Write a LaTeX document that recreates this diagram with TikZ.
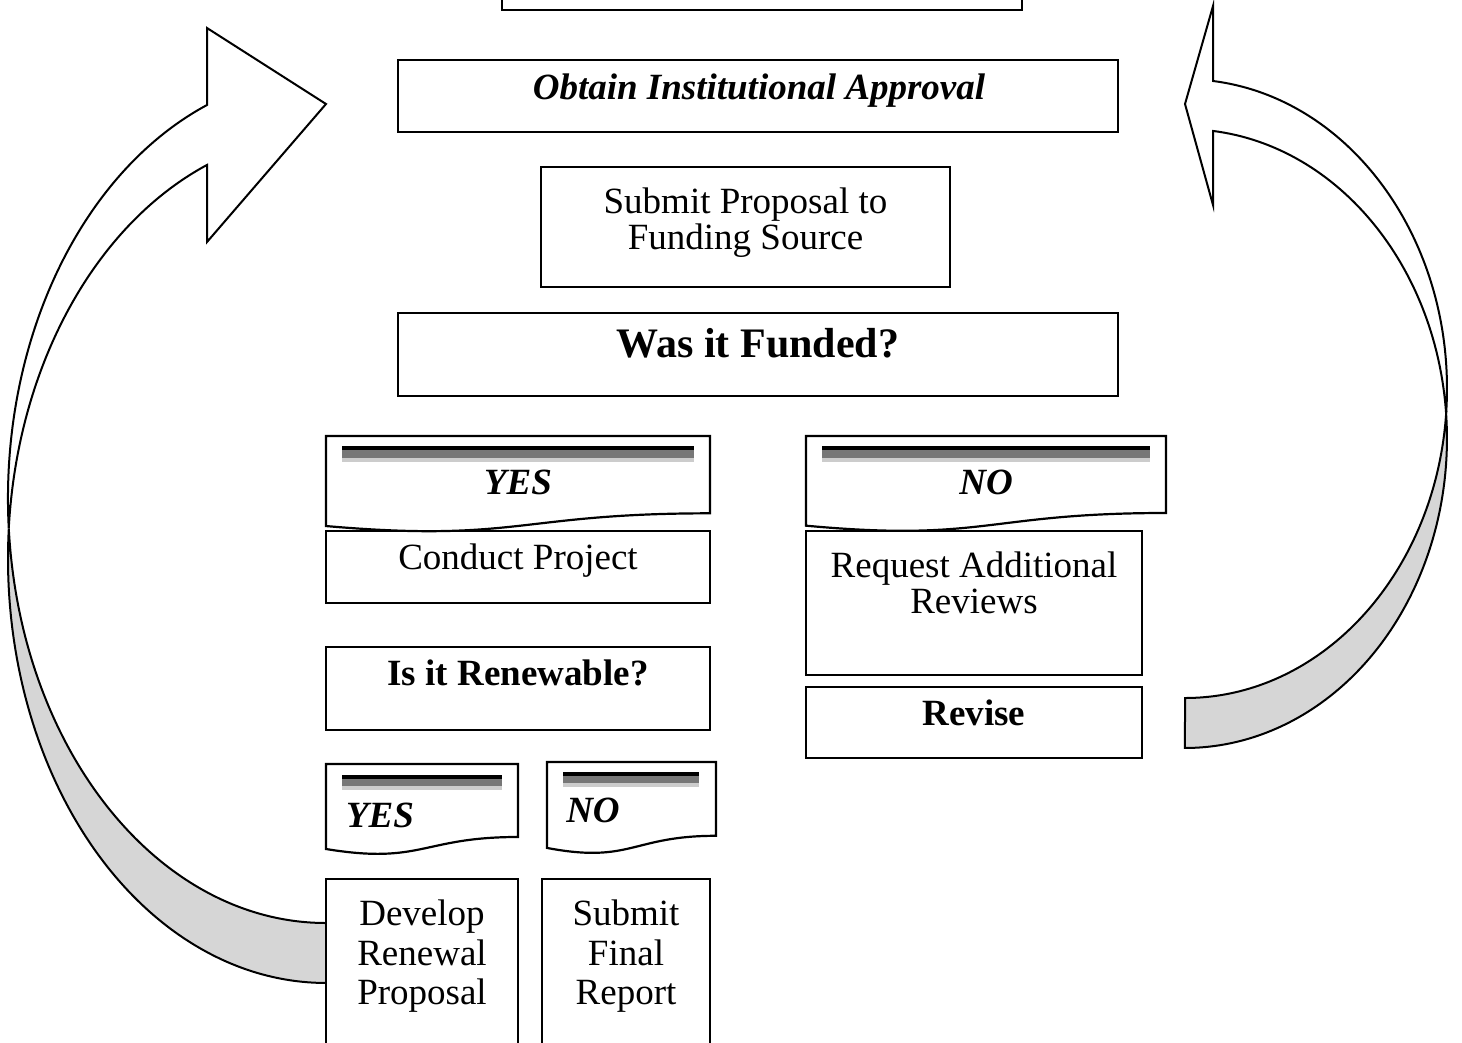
\documentclass[tikz,border=0pt]{standalone}
\usepackage{fontspec}
\setmainfont{Liberation Serif}
\definecolor{bandgray}{HTML}{D6D6D6}
\definecolor{bardark}{HTML}{777777}
\definecolor{barlight}{HTML}{CCCCCC}
\newcommand\docshape[4]{%
  \draw[docbox] (#1,#2) -- (#3,#2) -- (#3,{#2+0.802*#4})
    .. controls ({(#1+#3)/2},{#2+0.802*#4}) and ({(#1+#3)/2},{#2+1.1075*#4}) .. (#1,{#2+0.934*#4}) -- cycle;}
\newcommand\docbars[4]{%
  \fill[black] (#1,#3) rectangle (#2,{#3+#4*0.25});
  \fill[bardark] (#1,{#3+#4*0.25}) rectangle (#2,{#3+#4*0.75});
  \fill[barlight] (#1,{#3+#4*0.75}) rectangle (#2,{#3+#4});}
\begin{document}
\begin{tikzpicture}[x=1pt,y=-1pt]
\tikzset{
  box/.style={draw, line width=2.2pt, fill=white, inner sep=0pt, outer sep=0pt, anchor=north west},
  docbox/.style={draw, line width=2.2pt, fill=white, line join=miter},
  arrowfront/.style={draw, line width=2pt, fill=white, line join=miter},
  arrowback/.style={draw, line width=2pt, fill=bandgray, line join=miter},
  txt/.style={anchor=base, inner sep=0pt, font=\fontsize{37}{40}\selectfont},
  txtb/.style={txt, font=\fontsize{37}{40}\selectfont\bfseries},
  txtbi/.style={txt, font=\fontsize{37}{40}\selectfont\bfseries\itshape},
  txtbig/.style={txt, font=\fontsize{42}{46}\selectfont\bfseries}
}
\useasboundingbox (0,0) rectangle (1462,1042);
\clip (0,0) rectangle (1462,1042);

% ---- left curved arrow ----
\coordinate (Lnt) at (207,105);
\coordinate (Lbt) at (207,28);
\coordinate (Ltip) at (326,104);
\coordinate (Lbb) at (207,242);
\coordinate (Lx) at (8.8,528.6);
\coordinate (Lin) at (326,923);
\filldraw[arrowback] (Lx) arc[start angle=184.05, end angle=90, x radius=318, y radius=424.4]
  -- (Lin) arc[start angle=90, end angle=175.95, x radius=318, y radius=424.4] -- cycle;
\filldraw[arrowfront] (Lnt) arc[start angle=248.03, end angle=175.95, x radius=318, y radius=424.4]
  arc[start angle=184.05, end angle=248.03, x radius=318, y radius=424.4]
  -- (Lbb) -- (Ltip) -- (Lbt) -- cycle;

% ---- right curved arrow ----
\coordinate (Rnt) at (1213,81);
\coordinate (Rbt) at (1213,6);
\coordinate (Rtip) at (1185,104);
\coordinate (Rbb) at (1213,205);
\coordinate (Rx) at (1446.1,413.6);
\coordinate (Rin) at (1185,698);
\filldraw[arrowback] (Rx) arc[start angle=-4.63, end angle=90, x radius=262, y radius=309.4]
  -- (Rin) arc[start angle=90, end angle=4.63, x radius=262, y radius=309.4] -- cycle;
\filldraw[arrowfront] (Rnt) arc[start angle=276.14, end angle=364.63, x radius=262, y radius=309.4]
  arc[start angle=355.37, end angle=276.14, x radius=262, y radius=309.4]
  -- (Rbb) -- (Rtip) -- (Rbt) -- cycle;

% ---- boxes ----
\node[box, minimum width=520, minimum height=60] (top) at (502,-50) {};
\node[box, minimum width=720, minimum height=72] (obtain) at (398,60) {};
\node[box, minimum width=409, minimum height=120] (submit) at (541,167) {};
\node[box, minimum width=720, minimum height=83] (funded) at (398,313) {};
\node[box, minimum width=384, minimum height=72] (conduct) at (326,531) {};
\node[box, minimum width=336, minimum height=144] (request) at (806,531) {};
\node[box, minimum width=336, minimum height=71] (revise) at (806,687) {};
\node[box, minimum width=384, minimum height=83] (renew) at (326,647) {};
\node[box, minimum width=192, minimum height=190] (develop) at (326,879) {};
\node[box, minimum width=168, minimum height=190] (final) at (542,879) {};

% ---- document shapes ----
\docshape{326}{436}{710}{96.4}
\docbars{342}{694}{446}{16}
\docshape{806}{436}{1166}{96}
\docbars{822}{1150}{446}{16}
\docshape{326}{764}{518}{91}
\docbars{342}{502}{775}{15}
\docshape{547}{762}{716}{92}
\docbars{563}{699}{772}{15}

% ---- texts ----
\node[txtbi] (tobtain) at (759,99) {Obtain Institutional Approval};
\node[txt] (tsub1) at (745.5,213) {Submit Proposal to};
\node[txt] (tsub2) at (745.5,249) {Funding Source};
\node[txtbig] (tfunded) at (758,357) {Was it Funded?};
\node[txtbi] (tyes1) at (518,494) {YES};
\node[txtbi] (tno1) at (986,494) {NO};
\node[txt] (tconduct) at (518,569) {Conduct Project};
\node[txt] (treq1) at (974,577) {Request Additional};
\node[txt] (treq2) at (974,613) {Reviews};
\node[txtb] (trevise) at (974,725) {Revise};
\node[txtb] (trenew) at (518,685) {Is it Renewable?};
\node[txtbi] (tyes2) at (380,827) {YES};
\node[txtbi] (tno2) at (593,822) {NO};
\node[txt] (tdev1) at (422,925) {Develop};
\node[txt] (tdev2) at (422,965) {Renewal};
\node[txt] (tdev3) at (422,1004) {Proposal};
\node[txt] (tfin1) at (626,925) {Submit};
\node[txt] (tfin2) at (626,965) {Final};
\node[txt] (tfin3) at (626,1004) {Report};
\end{tikzpicture}
\end{document}
